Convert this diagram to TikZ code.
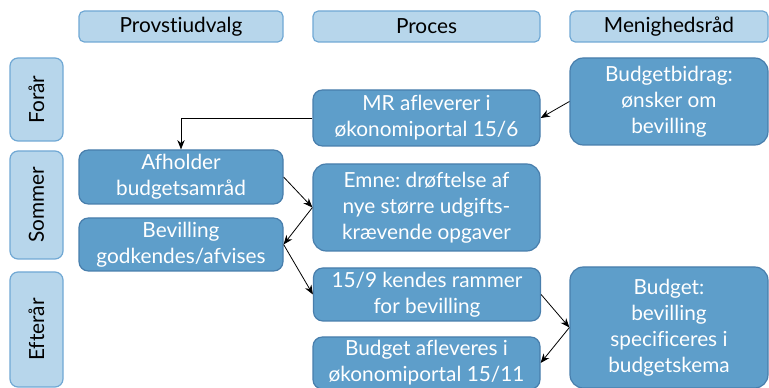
\documentclass[tikz,border=0pt]{standalone}
\usepackage{fontspec}
\setmainfont{Lato}[Ligatures={NoCommon}]
\usetikzlibrary{arrows.meta}
\definecolor{boxfill}{RGB}{94,158,202}
\definecolor{boxline}{RGB}{72,126,172}
\definecolor{headfill}{RGB}{183,214,235}
\definecolor{headline}{RGB}{112,168,212}
\frenchspacing
\begin{document}
\begin{tikzpicture}[x=0.75pt,y=-0.75pt,
  head/.style = {draw=headline,fill=headfill,line width=0.9pt,rounded corners=4pt,
                 minimum height=23.25pt,inner sep=0pt,font=\fontsize{15.6}{19.5}\selectfont},
  season/.style = {head,rotate=90,minimum height=39.75pt,rounded corners=6pt},
  step box/.style = {draw=boxline,fill=boxfill,line width=0.9pt,rounded corners=7pt,
                 inner sep=0pt,align=center,text=white,font=\fontsize{15.6}{19.5}\selectfont},
  arr/.style = {-{Stealth[length=7pt,width=5.5pt]},line width=0.6pt}]

\useasboundingbox (0,0) rectangle (769,388) ;

\node[head,minimum width=153pt] (provsti) at (181,26.5) {Provstiudvalg} ;
\node[head,minimum width=170.25pt] (proces) at (426.5,26.5) {Proces} ;
\node[head,minimum width=148.5pt] (menighed) at (669,26.5) {Menighedsråd} ;

\node[season,minimum width=62.25pt] (foraar) at (36.5,99.5) {Forår} ;
\node[season,minimum width=81pt] (sommer) at (36.5,205) {Sommer} ;
\node[season,minimum width=86.25pt] (efteraar) at (36.5,329.5) {Efterår} ;

\node[step box,minimum width=148.5pt,minimum height=65.25pt,rounded corners=10pt] (bidrag) at (669,101.5) {Budgetbidrag:\\ønsker om\\bevilling} ;
\node[step box,minimum width=170.25pt,minimum height=42pt] (mr) at (426.5,118) {MR afleverer i\\økonomiportal 15/6} ;
\node[step box,minimum width=153pt,minimum height=40.5pt] (afholder) at (181,177) {Afholder\\budgetsamråd} ;
\node[step box,minimum width=170.25pt,minimum height=65.25pt,rounded corners=10pt] (emne) at (426.5,207.5) {Emne: drøftelse af\\nye større udgifts-\\krævende opgaver} ;
\node[step box,minimum width=153pt,minimum height=39.75pt] (bevilling) at (181,244.5) {Bevilling\\godkendes/afvises} ;
\node[step box,minimum width=170.25pt,minimum height=39.75pt] (rammer) at (427,294.5) {15/9 kendes rammer\\for bevilling} ;
\node[step box,minimum width=148.5pt,minimum height=90.75pt,rounded corners=10pt] (budget) at (669,327.5) {Budget:\\bevilling\\specificeres i\\budgetskema} ;
\node[step box,minimum width=170.25pt,minimum height=39pt] (aflever) at (426.5,363) {Budget afleveres i\\økonomiportal 15/11} ;

\draw[arr] (bidrag.west) -- (mr.east) ;
\draw[arr] (mr.west) -| (afholder.north) ;
\draw[arr] (afholder.east) -- (emne.west) ;
\draw[arr] (emne.west) -- (bevilling.east) ;
\draw[arr] (bevilling.east) -- (rammer.west) ;
\draw[arr] (rammer.east) -- (budget.west) ;
\draw[arr] (budget.west) -- (aflever.east) ;

\end{tikzpicture}
\end{document}
